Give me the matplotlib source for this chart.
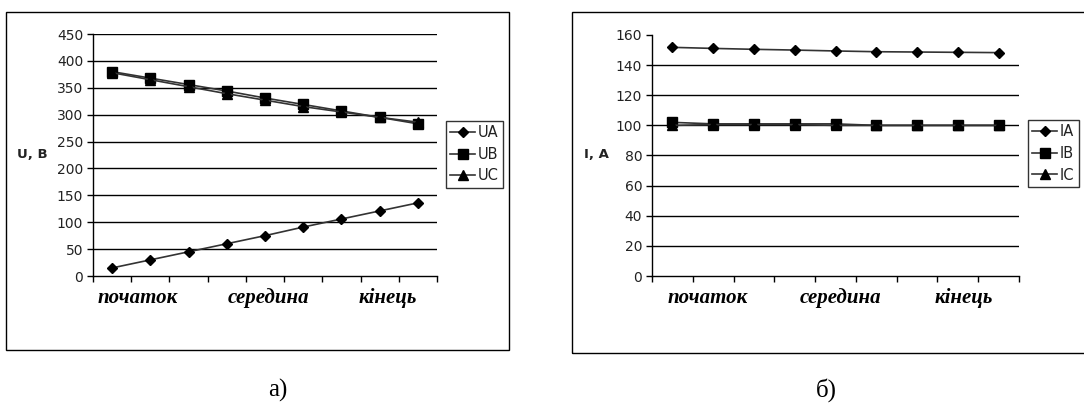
import numpy as np
import matplotlib
matplotlib.use("Agg")
import matplotlib.pyplot as plt
from matplotlib.patches import Rectangle
from matplotlib.transforms import blended_transform_factory

# ---- data ----
points = np.arange(9)
UA = [15, 30, 45, 60, 75, 91, 106, 121, 136]
UB = [380, 368, 356, 344, 331, 319, 307, 295, 283]
UC = [378, 365, 352, 339, 327, 315, 305, 295, 286]
IA = [151.8, 151.1, 150.5, 150.0, 149.4, 148.9, 148.7, 148.5, 148.3]
IB = [102, 101, 101, 101, 101, 100, 100, 100, 100]
IC = [100, 100.5, 100.5, 100.5, 100, 100, 100, 100, 100]
cat_labels = ["початок", "середина", "кінець"]
cat_pos_u = [0.67, 4.09, 7.2]
cat_pos_i = [0.86, 4.13, 7.15]
u_ticks = list(range(0, 451, 50))
i_ticks = list(range(0, 161, 20))

W, H = 1084, 416
fig = plt.figure(figsize=(W / 100, H / 100), dpi=100)
fig.patch.set_facecolor("white")

def fx(px):
    return px / W

def fy(py):
    return 1 - py / H

tick_font = dict(family="DejaVu Sans", size=10)

# frames
fig.patches.append(Rectangle((fx(6), fy(350)), fx(509 - 6), (350 - 12) / H,
                             transform=fig.transFigure, fill=False, ec="black", lw=1.0))
fig.patches.append(Rectangle((fx(572), fy(353)), fx(1090 - 572), (353 - 12) / H,
                             transform=fig.transFigure, fill=False, ec="black", lw=1.0,
                             clip_on=False))


def make_panel(left, right, top, bottom, ymax, yticks, series, labels, names,
               ylabel, ylabel_x, cat_pos, leg_pos, grid_top):
    ax = fig.add_axes([fx(left), fy(bottom), fx(right - left), (bottom - top) / H])
    ax.set_xlim(-0.5, 8.5)
    ax.set_ylim(0, ymax)
    ax.set_facecolor("none")
    for s in ["top", "right"]:
        ax.spines[s].set_visible(False)
    ax.spines["left"].set_linewidth(1.0)
    ax.spines["bottom"].set_linewidth(1.0)
    ax.set_yticks(yticks)
    ax.set_yticklabels([str(t) for t in yticks], **tick_font, color="#222")
    ax.set_xticks(np.arange(-0.5, 9.0, 1.0))
    ax.set_xticklabels([])
    ax.tick_params(axis="both", direction="out", length=4, width=1.0, pad=3)
    for t in yticks:
        if t == 0:
            continue
        if t == ymax and not grid_top:
            continue
        ax.axhline(t, color="black", lw=1.0, zorder=1)
    markers = ["D", "s", "^"]
    msizes = [5.5, 7, 6.5]
    handles = []
    for vals, name, m, ms in zip(series, names, markers, msizes):
        h, = ax.plot(points, vals, color="#333333", lw=1.2, marker=m, ms=ms,
                     mfc="black", mec="black", label=name, zorder=3, clip_on=False)
        handles.append(h)
    tr = blended_transform_factory(ax.transData, fig.transFigure)
    for lab, p in zip(labels, cat_pos):
        fig.text(p, fy(298), lab, transform=tr, ha="center", va="center",
                 family="Liberation Serif", style="italic", weight="bold", size=15)
    fig.text(fx(ylabel_x), fy(155), ylabel, ha="center", va="center",
             family="DejaVu Sans", size=9.5, weight="bold", color="#222")
    lx0, ly0 = leg_pos
    leg = fig.legend(handles=handles, loc="upper left",
                     bbox_to_anchor=(fx(lx0), fy(ly0)),
                     frameon=True, fancybox=False, edgecolor="black",
                     prop=dict(family="DejaVu Sans", size=10.5),
                     handlelength=1.7, handletextpad=0.2, borderpad=0.3,
                     labelspacing=0.45, borderaxespad=0)
    leg.get_frame().set_linewidth(1.0)
    for t in leg.get_texts():
        t.set_color("#222")
    return ax


make_panel(93, 437, 34, 276, 450, u_ticks, [UA, UB, UC], cat_labels,
           ["UA", "UB", "UC"], "U, B", 32, cat_pos_u, (446, 121), True)
make_panel(652, 1019, 35, 276, 160, i_ticks, [IA, IB, IC], cat_labels,
           ["IA", "IB", "IC"], "I, A", 596, cat_pos_i, (1028, 120), False)

fig.text(fx(278), fy(390), "а)", ha="center", va="center",
         family="Liberation Serif", size=18)
fig.text(fx(826), fy(390), "б)", ha="center", va="center",
         family="Liberation Serif", size=18)

fig.savefig("out.png", dpi=100, facecolor="white")
